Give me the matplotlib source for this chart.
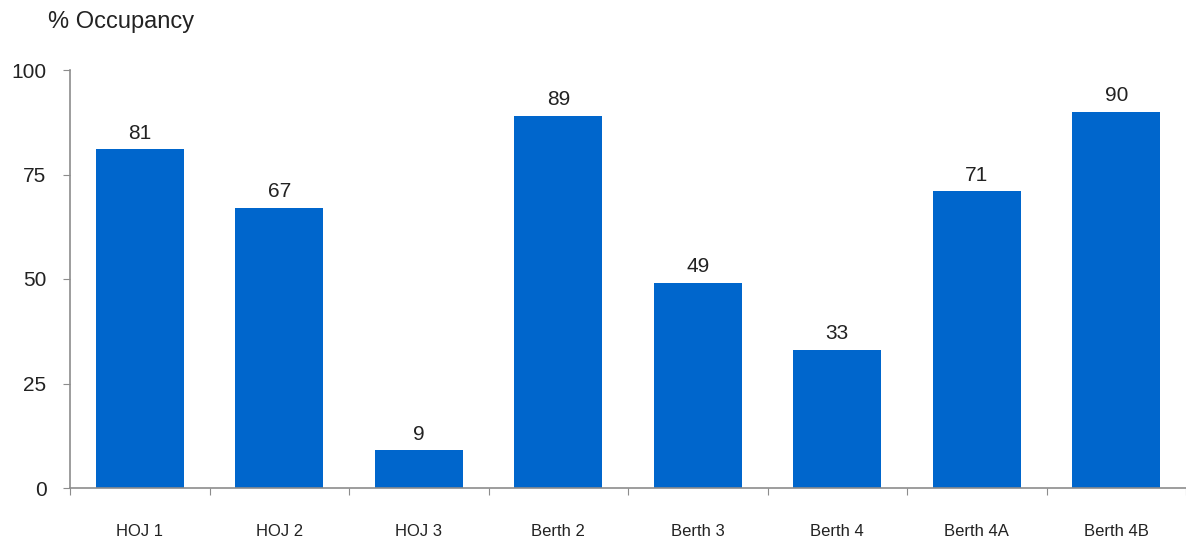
import matplotlib
matplotlib.use("Agg")
import matplotlib.pyplot as plt
import numpy as np

plt.rcParams['font.family'] = ['Liberation Sans', 'DejaVu Sans']

categories = ["HOJ 1", "HOJ 2", "HOJ 3", "Berth 2", "Berth 3", "Berth 4", "Berth 4A", "Berth 4B"]
occupancy = [81, 67, 9, 89, 49, 33, 71, 90]
y_ticks = [0, 25, 50, 75, 100]

bar_color = "#0066CC"
axis_color = "#8C8C8C"
text_color = "#222222"

fig = plt.figure(figsize=(11.86, 5.40), dpi=100)
ax = fig.add_axes([70 / 1186, 1 - 488 / 540, 1116 / 1186, 418 / 540])

x = np.arange(len(categories))
bars = ax.bar(x, occupancy, width=0.63, color=bar_color, zorder=2)

for xi, v in zip(x, occupancy):
    ax.text(xi, v + 1.6, str(v), ha="center", va="bottom", fontsize=15, color=text_color)

ax.set_xlim(-0.5, 7.47)
ax.set_ylim(0, 100)
ax.set_yticks(y_ticks)
ax.set_yticklabels([str(t) for t in y_ticks], fontsize=15, color=text_color)

# Category labels centred under bars; tick marks at the category boundaries
ax.set_xticks(np.arange(len(categories) + 1) - 0.5)
ax.set_xticklabels([])
ax.set_xticks(x, minor=True)
ax.set_xticklabels(categories, minor=True, fontsize=12, color=text_color)
ax.tick_params(axis="x", which="minor", length=0, pad=26)
ax.tick_params(axis="x", which="major", length=5, color=axis_color, direction="out")
ax.tick_params(axis="y", length=5, color=axis_color, direction="out", pad=12)

for side in ("top", "right"):
    ax.spines[side].set_visible(False)
for side in ("left", "bottom"):
    ax.spines[side].set_color(axis_color)
    ax.spines[side].set_linewidth(1.2)

fig.text(48 / 1186, 1 - 22 / 540, "% Occupancy", fontsize=17, color=text_color, va="center", ha="left")

fig.savefig("out.png", dpi=100, facecolor="white")
